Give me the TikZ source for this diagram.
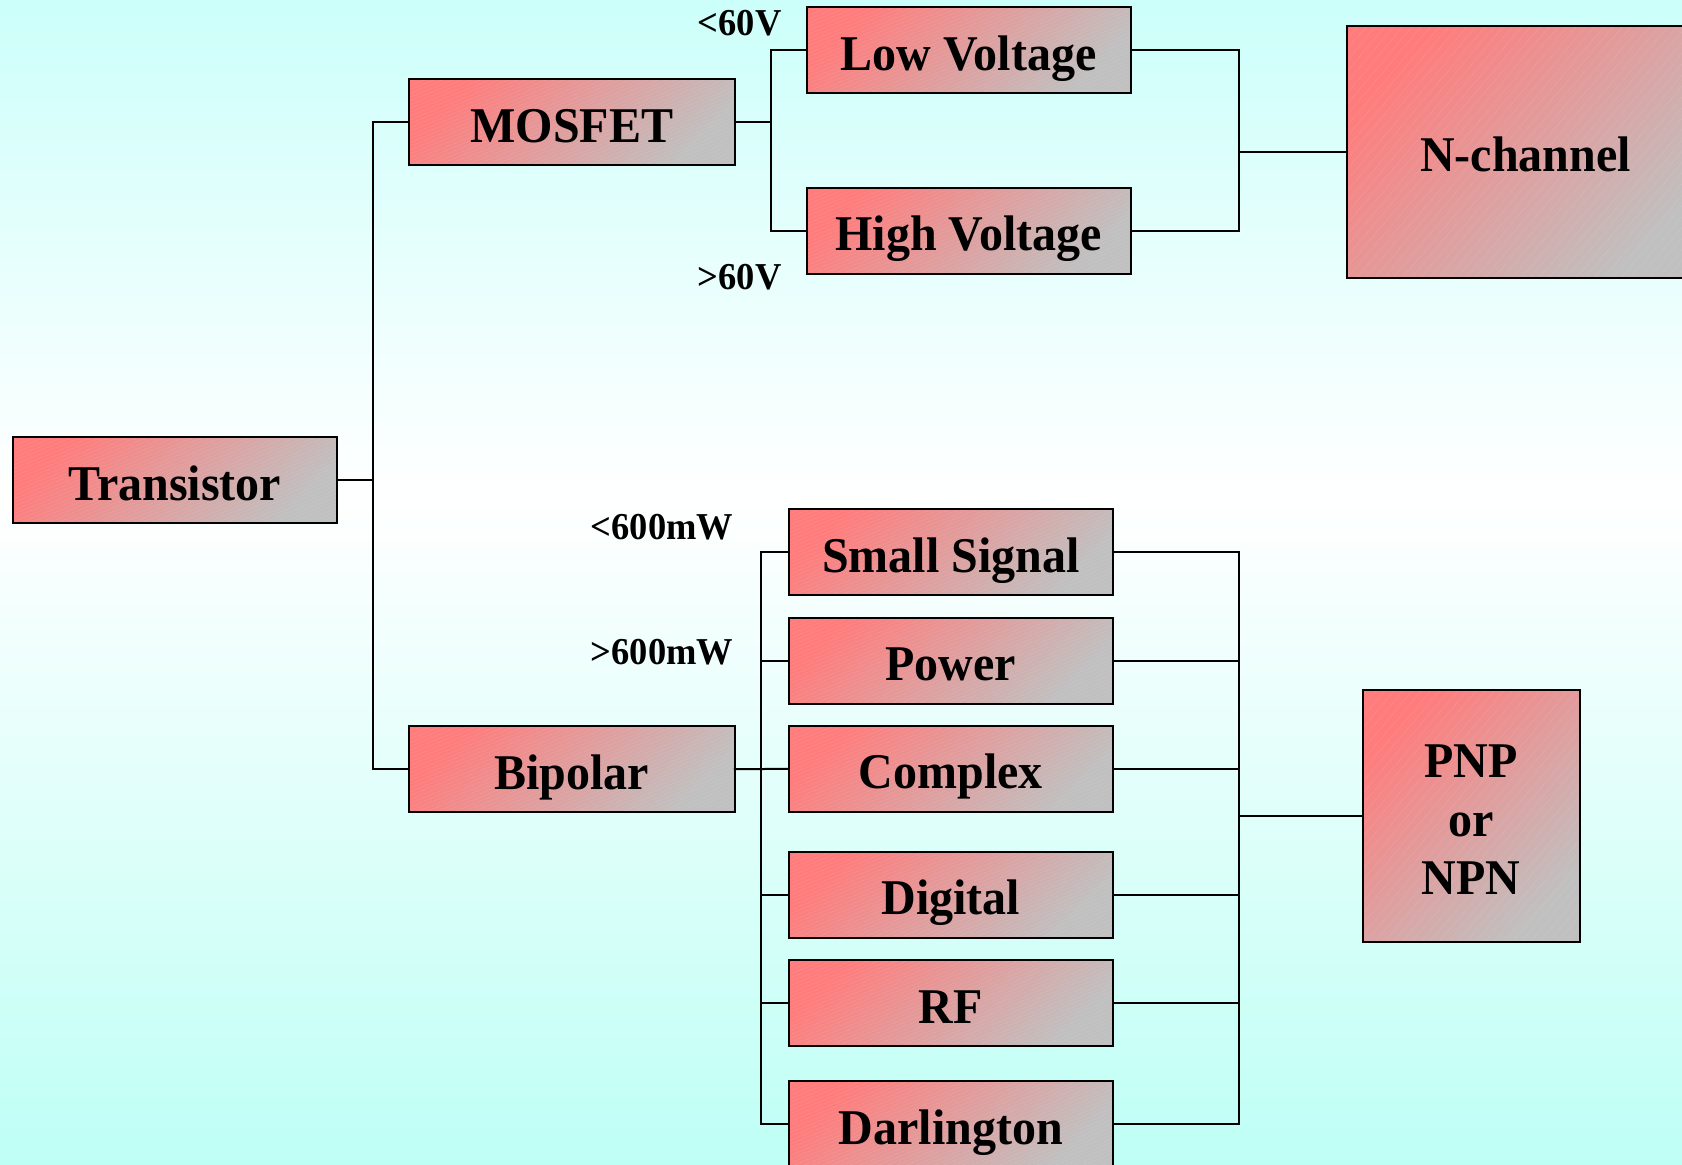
\documentclass[tikz,border=0pt]{standalone}
\usepackage{fontspec}
\setmainfont{Liberation Serif}[FakeStretch=0.96]
\usetikzlibrary{patterns.meta}
\definecolor{bgtop}{RGB}{204,255,250}
\definecolor{bgbot}{RGB}{190,255,245}
\definecolor{boxred}{RGB}{255,124,124}
\definecolor{boxgrey}{RGB}{192,192,192}
\tikzset{
  boxbase/.style={draw=black, line width=2pt, inner sep=0pt, outer sep=0pt,
    preaction={top color=boxred, bottom color=boxgrey, shading angle=45},
    font=\fontsize{50}{58.3}\selectfont\bfseries, align=center},
  boxsmall/.style={boxbase, minimum width=324pt, minimum height=86pt,
    text height=40pt, text depth=0pt,
    preaction={opacity=0.12, pattern={Lines[angle=22,distance=3.5pt,line width=0.4pt]}, pattern color=white}},
  boxbig/.style={boxbase,
    preaction={opacity=0.12, pattern={Lines[angle=50,distance=7pt,line width=0.4pt]}, pattern color=white}},
  lbl/.style={inner sep=0pt, anchor=base east, font=\fontsize{38}{44}\selectfont\bfseries},
  conn/.style={line width=2pt, line cap=rect}
}
\begin{document}
\begin{tikzpicture}[x=1pt, y=-1pt]
\useasboundingbox (0,0) rectangle (1682,1165);
\path[top color=bgtop, bottom color=white] (0,0) rectangle (1682,495);
\path[top color=white, bottom color=bgbot] (0,494.5) rectangle (1682,1165);

% nodes
\node[boxsmall, minimum width=324.6pt] (trans) at (175,480.3) {Transistor};
\node[boxsmall, minimum width=326pt] (mosfet) at (571.75,122.3) {MOSFET};
\node[boxsmall, minimum width=326pt] (bipolar) at (571.75,769.1) {Bipolar};
\node[boxsmall] (lowv) at (968.65,50.4) {Low Voltage};
\node[boxsmall] (highv) at (968.65,230.6) {High Voltage};
\node[boxbig, minimum width=356.4pt, minimum height=252pt, text height=40pt, text depth=0pt] (nch) at (1525.5,151.6) {N-channel};
\node[boxsmall] (small) at (950.9,552.4) {Small Signal};
\node[boxsmall] (power) at (950.9,660.7) {Power};
\node[boxsmall] (complex) at (950.9,768.9) {Complex};
\node[boxsmall] (digital) at (950.9,894.8) {Digital};
\node[boxsmall] (rf) at (950.9,1003) {RF};
\node[boxsmall] (darl) at (950.9,1124.4) {Darlington};
\node[boxbig, minimum width=217pt, minimum height=252pt] (pnp) at (1471,815.6) {\rule{0pt}{41pt}PNP\\or\\NPN};

% labels
\node[lbl] (l60) at (781.7,35) {<60V};
\node[lbl] (g60) at (781.7,289) {>60V};
\node[lbl] (l600) at (733.3,539.3) {<600mW};
\node[lbl] (g600) at (733.3,664) {>600mW};

% junctions
\coordinate (jT) at (372.8,480.3);
\coordinate (jM) at (771.3,122.3);
\coordinate (jN) at (1239,151.6);
\coordinate (jB) at (761,769.1);
\coordinate (jP) at (1239,815.6);

% connectors
\draw[conn] (trans.east) -- (jT);
\draw[conn] (mosfet.west) -| (jT) |- (bipolar.west);
\draw[conn] (mosfet.east) -- (jM);
\draw[conn] (lowv.west) -| (jM) |- (highv.west);
\draw[conn] (lowv.east) -| (jN) |- (highv.east);
\draw[conn] (jN) -- (nch.west);
\draw[conn] (bipolar.east) -- (complex.west);
\draw[conn] (small.west) -| (jB) |- (darl.west);
\draw[conn] (power.west) -- (jB |- power.west);
\draw[conn] (digital.west) -- (jB |- digital.west);
\draw[conn] (rf.west) -- (jB |- rf.west);
\draw[conn] (small.east) -| (jP) |- (darl.east);
\draw[conn] (power.east) -- (jP |- power.east);
\draw[conn] (complex.east) -- (jP |- complex.east);
\draw[conn] (digital.east) -- (jP |- digital.east);
\draw[conn] (rf.east) -- (jP |- rf.east);
\draw[conn] (jP) -- (pnp.west);
\end{tikzpicture}
\end{document}
